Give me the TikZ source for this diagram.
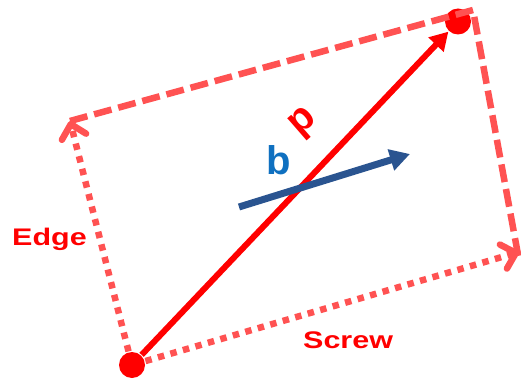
\documentclass[tikz,border=0pt]{standalone}
\usepackage{fontspec}
\setmainfont{Liberation Sans}
\usetikzlibrary{arrows.meta}
\definecolor{vecred}{HTML}{FF0000}
\definecolor{softred}{HTML}{FF5252}
\definecolor{burgersblue}{HTML}{2A5490}
\definecolor{labelblue}{HTML}{0F70C0}
\begin{document}
\begin{tikzpicture}[x=1pt, y=-1pt,
    atom/.style={circle, fill=vecred, inner sep=0pt, minimum size=26pt, outer sep=1pt},
    pvec/.style={-{Triangle[length=18pt, width=20pt]},
      line width=6pt, color=vecred},
    bvec/.style={-{Triangle[length=20pt, width=21pt]},
      line width=7pt, color=burgersblue},
    dotline/.style={-{Straight Barb[round, length=13pt, width=25pt]},
      line width=6.5pt, color=softred, dash pattern=on 6.5pt off 6.5pt},
    dashline/.style={line width=6.5pt, color=softred,
      dash pattern=on 18pt off 7pt},
    typelabel/.style={font=\bfseries\fontsize{24}{24}\selectfont,
      color=vecred, anchor=base west, inner sep=0pt},
    veclabel/.style={font=\bfseries\fontsize{40}{40}\selectfont, inner sep=0pt},
]
\useasboundingbox (0,0) rectangle (521,379);
% Nodes
\node[atom] (start) at (132,365) {};
\node[atom] (finish) at (458,21.5) {};
\coordinate (edgetip) at (70,121);
\coordinate (screwtip) at (519,252);
\coordinate (corner) at (473,10);
\coordinate (btail) at (239,207);
\coordinate (bhead) at (410,154);
\node[typelabel] (edgelabel) at (12,245) {\scalebox{1.27}[1]{Edge}};
\node[typelabel] (screwlabel) at (303,348) {\scalebox{1.27}[1]{Screw}};
\node[veclabel, color=labelblue] (blabel) at (279,160) {b};
\node[veclabel, color=vecred, rotate=41] (plabel) at (304,123) {p};
% Arrows
\draw[dashline] (edgetip) -- (corner) -- ([yshift=-8pt]screwtip);
\draw[dotline] (start) -- (edgetip);
\draw[dotline] (start) -- (screwtip);
\draw[pvec] (start) -- (finish);
\draw[bvec] (btail) -- (bhead);
\end{tikzpicture}
\end{document}
